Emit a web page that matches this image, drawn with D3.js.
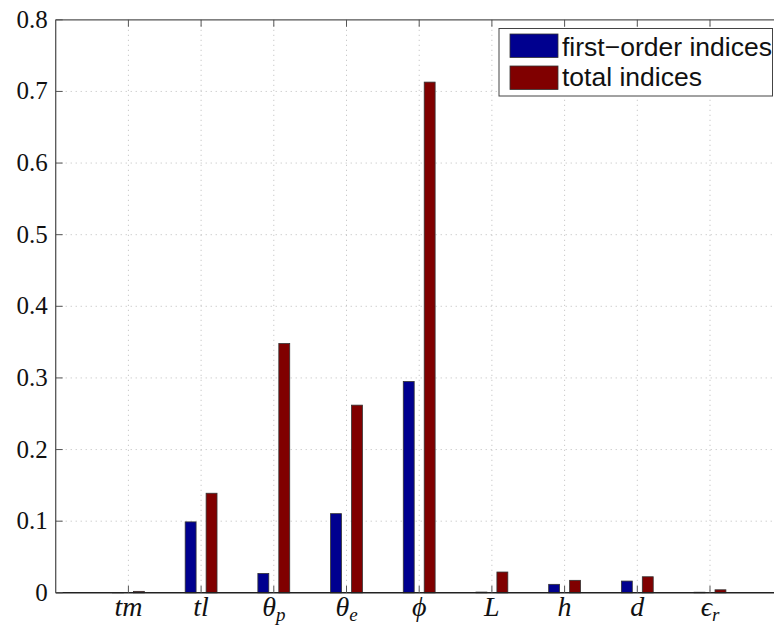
<!DOCTYPE html>
<html><head><meta charset="utf-8">
<script src="https://cdn.jsdelivr.net/npm/d3@7"></script>
<style>body{margin:0;background:#fff}svg{display:block}</style>
</head><body>
<script>
const categories = ["tm","tl","θp","θe","ϕ","L","h","d","ϵr"];
const labelMain = ["tm","tl","θ","θ","ϕ","L","h","d","ϵ"];
const labelSub  = ["","","p","e","","","","","r"];
const firstOrder = [0.0005,0.099,0.027,0.1105,0.295,0.001,0.0118,0.0164,0.0008];
const totalIdx   = [0.002,0.139,0.348,0.262,0.713,0.029,0.0174,0.0224,0.0042];
const yTicks = [0,0.1,0.2,0.3,0.4,0.5,0.6,0.7,0.8];
const seriesNames = ["first−order indices","total indices"];
const colors = ["#00008f","#800000"];

const W=774,H=627;
const svg=d3.select("body").append("svg").attr("width",W).attr("height",H);
const L=55.7, T=19.8, B=592.8;
const x=d3.scaleLinear().domain([0,10]).range([L,L+727]);
const y=d3.scaleLinear().domain([0,0.8]).range([B,T]);
const off=0.144, bw=0.15;

const g=svg.append("g");
// grid
g.selectAll(".gy").data(yTicks.slice(1,-1)).join("line")
 .attr("x1",L).attr("x2",W).attr("y1",d=>y(d)).attr("y2",d=>y(d))
 .attr("stroke","#bbb").attr("stroke-width",1).attr("stroke-dasharray","1,4");
g.selectAll(".gx").data(categories).join("line")
 .attr("x1",(d,i)=>x(i+1)).attr("x2",(d,i)=>x(i+1)).attr("y1",T).attr("y2",B)
 .attr("stroke","#bbb").attr("stroke-width",1).attr("stroke-dasharray","1,4");

// bars
[firstOrder,totalIdx].forEach((vals,s)=>{
  g.selectAll(".b"+s).data(vals).join("rect")
   .attr("x",(d,i)=>x(i+1+(s?off:-off)-bw/2))
   .attr("width",x(bw)-x(0))
   .attr("y",d=>y(d)).attr("height",d=>y(0)-y(d))
   .attr("fill",colors[s]).attr("stroke","#333").attr("stroke-width",0.8);
});

// frame
g.append("line").attr("x1",L).attr("x2",L).attr("y1",T).attr("y2",B).attr("stroke","#555").attr("stroke-width",1.3);
g.append("line").attr("x1",L).attr("x2",W).attr("y1",T).attr("y2",T).attr("stroke","#555").attr("stroke-width",1.3);
g.append("line").attr("x1",L).attr("x2",W).attr("y1",B).attr("y2",B).attr("stroke","#222").attr("stroke-width",1.5);

// ticks
g.selectAll(".ty").data(yTicks).join("line")
 .attr("x1",L).attr("x2",L+7).attr("y1",d=>y(d)).attr("y2",d=>y(d)).attr("stroke","#555");
g.selectAll(".tx").data(categories).join("line")
 .attr("x1",(d,i)=>x(i+1)).attr("x2",(d,i)=>x(i+1)).attr("y1",B).attr("y2",B-7).attr("stroke","#555");
g.selectAll(".tx2").data(categories).join("line")
 .attr("x1",(d,i)=>x(i+1)).attr("x2",(d,i)=>x(i+1)).attr("y1",T).attr("y2",T+7).attr("stroke","#555");

// y labels
g.selectAll(".ly").data(yTicks).join("text")
 .attr("x",L-8).attr("y",d=>y(d)+8).attr("text-anchor","end")
 .attr("font-family","'Liberation Serif','DejaVu Serif',serif").attr("font-size",25).attr("fill","#111")
 .text(d=>d===0?"0":d3.format(".1f")(d));

// x labels
const xl=g.selectAll(".lx").data(categories).join("text")
 .attr("x",(d,i)=>x(i+1)).attr("y",616).attr("text-anchor","middle")
 .attr("font-family","'Liberation Serif','DejaVu Serif',serif").attr("font-style","italic").attr("font-size",28).attr("fill","#111");
xl.append("tspan").text((d,i)=>labelMain[i]);
xl.append("tspan").attr("font-size",19).attr("dy",5).text((d,i)=>labelSub[i]);

// legend
const lg=svg.append("g");
lg.append("rect").attr("x",499).attr("y",28.5).attr("width",273.5).attr("height",67.5).attr("fill","#fff").attr("stroke","#444").attr("stroke-width",1);
seriesNames.forEach((n,s)=>{
  lg.append("rect").attr("x",510).attr("y",34+s*32).attr("width",48).attr("height",23.5).attr("fill",colors[s]).attr("stroke","#333").attr("stroke-width",0.8);
  lg.append("text").attr("x",562).attr("y",55.5+s*30.5).attr("font-family","'Liberation Sans',Arial,sans-serif").attr("font-size",26.5).attr("fill","#111").text(n);
});
</script>
</body></html>
